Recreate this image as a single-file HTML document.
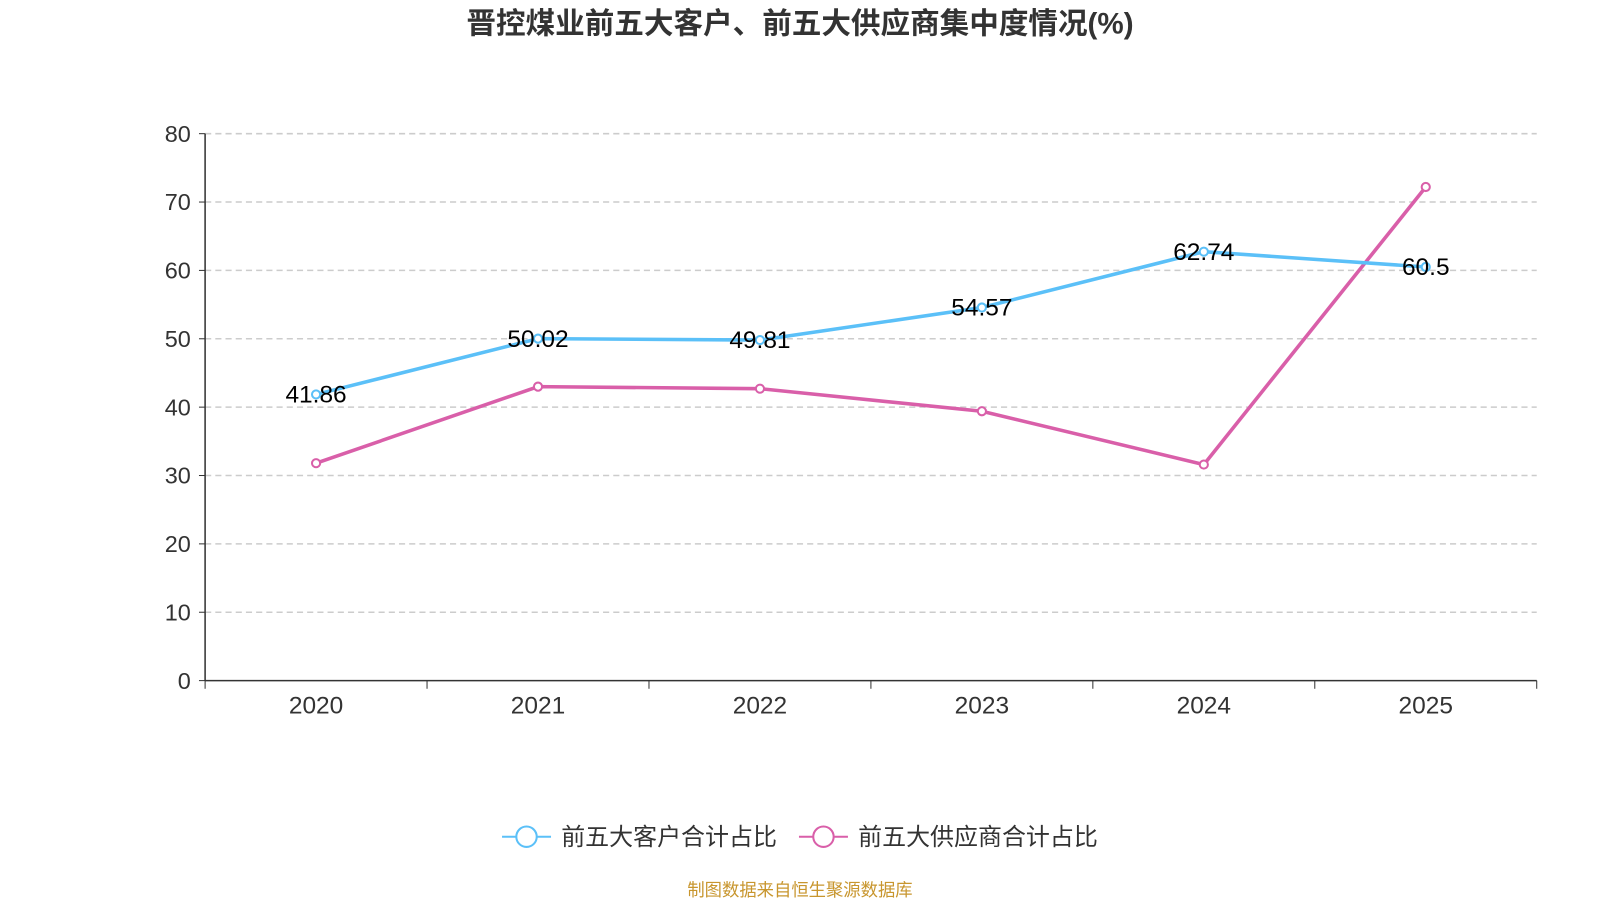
<!DOCTYPE html>
<html><head><meta charset="utf-8"><style>
html,body{margin:0;padding:0;background:#fff;width:1600px;height:900px;overflow:hidden}
svg{display:block;font-family:"Liberation Sans","Noto Sans CJK SC",sans-serif}
</style></head><body>
<svg id="chart" width="1600" height="900">
<g transform="scale(1.0204)">
<text x="784" y="33" text-anchor="middle" font-size="29" font-weight="bold" fill="#333">晋控煤业前五大客户、前五大供应商集中度情况(%)</text>
<g id="grid"></g><g id="axes"></g><g id="series"></g>
<g>
<g>
<line x1="492" y1="820" x2="540" y2="820" stroke="#5bc0f8" stroke-width="2"/>
<circle cx="516" cy="820" r="10" fill="#fff" stroke="#5bc0f8" stroke-width="2"/>
<text x="550" y="828" font-size="23.5" fill="#333">前五大客户合计占比</text></g>
<g>
<line x1="783" y1="820" x2="831" y2="820" stroke="#d95fa9" stroke-width="2"/>
<circle cx="807" cy="820" r="10" fill="#fff" stroke="#d95fa9" stroke-width="2"/>
<text x="841" y="828" font-size="23.5" fill="#333">前五大供应商合计占比</text></g>
</g>
<text x="784" y="878" text-anchor="middle" font-size="17" fill="#c8962e">制图数据来自恒生聚源数据库</text>
</g>
</svg>
<script>
const categories=["2020","2021","2022","2023","2024","2025"];
const customers=[41.86,50.02,49.81,54.57,62.74,60.5];
const suppliers=[31.8,43.0,42.7,39.4,31.6,72.2];
const yTicks=[0,10,20,30,40,50,60,70,80];
const NS="http://www.w3.org/2000/svg";
const L=201,R=1506,T=131,B=667,yMax=80;
const bw=(R-L)/categories.length;
const x=i=>L+bw*(i+0.5);
const y=v=>B-(v/yMax)*(B-T);
function mk(tag,attrs,parent){const e=document.createElementNS(NS,tag);for(const k in attrs)e.setAttribute(k,attrs[k]);parent.appendChild(e);return e;}
const grid=document.getElementById('grid'),axes=document.getElementById('axes'),ser=document.getElementById('series');
yTicks.forEach(t=>{
 if(t>0){const g=mk('line',{x1:L,x2:R,y1:y(t),y2:y(t),stroke:'#ccc','stroke-dasharray':'6,4','stroke-width':1.5},grid);
 
 }
 mk('line',{x1:L-6,x2:L,y1:y(t),y2:y(t),stroke:'#333'},axes);
 const tx=mk('text',{x:L-14,y:y(t)+8,'text-anchor':'end','font-size':23,fill:'#333'},axes);tx.textContent=t;
 
 
});
mk('line',{x1:L,x2:L,y1:T,y2:B,stroke:'#333','stroke-width':1.5},axes);
mk('line',{x1:L,x2:R,y1:B,y2:B,stroke:'#333','stroke-width':1.5},axes);
for(let i=0;i<=categories.length;i++)mk('line',{x1:L+bw*i,x2:L+bw*i,y1:B,y2:B+8,stroke:'#333'},axes);
categories.forEach((c,i)=>{const t=mk('text',{x:x(i),y:B+32,'text-anchor':'middle','font-size':24,fill:'#333'},axes);t.textContent=c;
 
 });
function draw(vals,color,name,labels){
 const p=mk('polyline',{points:vals.map((v,i)=>x(i)+','+y(v)).join(' '),fill:'none',stroke:color,'stroke-width':3.5},ser);
 
 
 vals.forEach((v,i)=>{const c=mk('circle',{cx:x(i),cy:y(v),r:4,fill:'#fff',stroke:color,'stroke-width':2},ser);
  
  
  if(labels){const t=mk('text',{x:x(i),y:y(v)+8,'text-anchor':'middle','font-size':24,fill:'#000'},ser);t.textContent=v;
   
   }
 });
}
draw(suppliers,'#d95fa9','suppliers',false);
draw(customers,'#5bc0f8','customers',true);
</script>
</body></html>
